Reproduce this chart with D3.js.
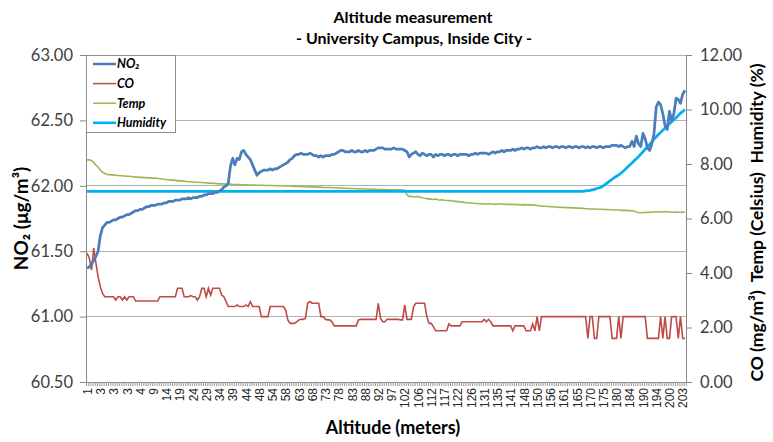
<!DOCTYPE html>
<html><head><meta charset="utf-8">
<script src="https://cdn.jsdelivr.net/npm/d3@7"></script>
<style>body{margin:0;background:#fff}svg{display:block}</style>
</head><body><svg id="c" width="773" height="442"></svg>
<script>
const title = "Altitude measurement";
const subtitle = "- University Campus, Inside City -";
const seriesNames = ["NO₂", "CO", "Temp", "Humidity"];
const xTickLabels = [1,3,3,3,4,9,14,19,24,29,34,39,44,48,54,58,63,68,73,78,83,88,92,97,102,106,112,117,122,126,131,135,141,148,150,156,161,165,170,175,180,184,190,194,200,203];
const leftTicks = [60.5,61,61.5,62,62.5,63];
const rightTicks = [0,2,4,6,8,10,12];

const no2 = [
61.37,61.38,61.40,61.43,61.46,61.50,61.62,61.68,61.70,61.72,
61.72,61.73,61.74,61.74,61.75,61.76,61.76,61.77,61.78,61.78,
61.79,61.80,61.81,61.81,61.82,61.82,61.83,61.84,61.84,61.85,
61.85,61.85,61.86,61.86,61.86,61.87,61.87,61.88,61.88,61.88,
61.89,61.89,61.89,61.90,61.90,61.90,61.91,61.90,61.91,61.91,
61.91,61.92,61.92,61.93,61.93,61.94,61.94,61.94,61.95,61.95,
61.96,61.97,61.99,62.00,62.02,62.15,62.21,62.16,62.21,62.20,
62.26,62.27,62.24,62.22,62.20,62.16,62.12,62.08,62.10,62.11,
62.12,62.12,62.12,62.13,62.12,62.13,62.13,62.14,62.15,62.16,
62.17,62.18,62.20,62.21,62.23,62.24,62.24,62.25,62.24,62.24,
62.24,62.25,62.24,62.23,62.23,62.22,62.23,62.22,62.23,62.23,
62.23,62.24,62.24,62.25,62.26,62.27,62.27,62.26,62.26,62.26,
62.27,62.26,62.26,62.27,62.26,62.26,62.27,62.26,62.27,62.27,
62.27,62.28,62.29,62.29,62.29,62.28,62.28,62.28,62.28,62.29,
62.28,62.28,62.28,62.28,62.27,62.26,62.22,62.24,62.25,62.26,
62.24,62.23,62.25,62.24,62.23,62.24,62.24,62.22,62.24,62.23,
62.24,62.24,62.23,62.24,62.24,62.23,62.24,62.24,62.23,62.24,
62.24,62.24,62.24,62.23,62.24,62.24,62.25,62.24,62.25,62.25,
62.25,62.25,62.24,62.25,62.26,62.25,62.26,62.26,62.27,62.26,
62.27,62.27,62.27,62.28,62.27,62.28,62.28,62.29,62.28,62.29,
62.29,62.28,62.29,62.29,62.30,62.29,62.29,62.30,62.29,62.30,
62.30,62.29,62.30,62.30,62.29,62.30,62.30,62.29,62.30,62.30,
62.29,62.30,62.30,62.29,62.30,62.30,62.29,62.30,62.29,62.30,
62.30,62.29,62.30,62.30,62.29,62.30,62.30,62.30,62.31,62.31,
62.31,62.30,62.31,62.30,62.29,62.30,62.30,62.34,62.30,62.38,
62.32,62.30,62.40,62.36,62.29,62.27,62.32,62.40,62.60,62.64,
62.62,62.55,62.46,62.43,62.57,62.50,62.55,62.67,62.66,62.63,
62.70,62.73];

const co = [
4.72,4.55,4.11,4.91,4.36,3.86,3.50,3.25,3.13,3.13,
3.13,3.13,3.13,3.01,3.13,3.13,3.01,3.13,3.01,3.13,
3.13,3.13,2.97,2.97,2.97,2.97,2.97,2.97,2.97,2.97,
2.97,2.97,2.97,3.13,3.13,3.13,3.13,3.13,3.13,3.13,
3.13,3.44,3.44,3.44,3.13,3.13,3.13,3.17,3.13,3.13,
3.01,3.13,3.44,3.44,3.13,3.44,3.19,3.44,3.44,3.44,
3.44,3.19,3.13,2.95,2.77,2.77,2.77,2.77,2.83,2.77,
2.77,2.77,2.83,2.77,2.95,2.77,2.77,2.77,2.77,2.40,
2.40,2.40,2.40,2.77,2.77,2.77,2.77,2.77,2.77,2.77,
2.64,2.28,2.15,2.15,2.15,2.21,2.28,2.30,2.30,2.34,
2.89,2.95,2.89,2.89,2.89,2.89,2.40,2.40,2.30,2.28,
2.28,2.21,2.06,2.06,2.06,2.06,2.06,2.06,2.06,2.06,
2.06,2.06,2.06,2.28,2.30,2.30,2.30,2.30,2.30,2.30,
2.30,2.30,2.89,2.34,2.21,2.21,2.30,2.30,2.30,2.30,
2.30,2.30,2.28,2.28,2.83,2.30,2.30,2.30,2.77,2.89,
2.89,2.89,2.89,2.89,2.40,2.15,2.15,2.03,1.88,1.88,
1.88,1.88,1.88,1.88,2.13,2.06,2.06,2.06,2.06,2.06,
2.21,2.21,2.21,2.21,2.21,2.21,2.21,2.21,2.21,2.21,
2.30,2.21,2.30,2.21,2.06,2.06,2.06,2.06,2.06,2.06,
2.06,2.06,2.06,1.88,2.06,2.06,2.06,2.06,2.06,1.88,
1.88,1.88,2.13,1.88,2.40,1.88,2.40,2.40,2.40,2.40,
2.40,2.40,2.40,2.40,2.40,2.40,2.40,2.40,2.40,2.40,
2.40,2.40,2.40,2.40,2.40,2.40,2.40,1.60,2.40,2.40,
1.60,1.60,2.40,2.40,2.40,2.40,2.40,2.40,1.60,1.60,
1.60,2.40,1.60,2.40,2.40,2.40,2.40,2.40,2.40,2.40,
2.40,2.40,2.40,2.40,1.60,1.60,1.60,1.60,1.60,1.60,
2.40,1.60,2.40,1.60,1.60,2.40,2.40,2.40,1.60,2.40,
1.60,1.60];

const temp = [
8.15,8.15,8.13,8.05,7.96,7.88,7.78,7.70,7.65,7.62,
7.61,7.60,7.60,7.59,7.58,7.57,7.57,7.56,7.55,7.55,
7.54,7.53,7.52,7.52,7.51,7.51,7.50,7.50,7.49,7.49,
7.48,7.48,7.47,7.46,7.45,7.44,7.43,7.42,7.41,7.41,
7.40,7.39,7.38,7.38,7.37,7.36,7.35,7.35,7.34,7.34,
7.33,7.32,7.32,7.31,7.31,7.30,7.30,7.29,7.29,7.28,
7.27,7.27,7.27,7.26,7.26,7.26,7.25,7.25,7.25,7.25,
7.24,7.24,7.24,7.23,7.23,7.23,7.23,7.22,7.22,7.22,
7.22,7.21,7.21,7.21,7.21,7.20,7.20,7.20,7.20,7.19,
7.19,7.19,7.19,7.18,7.18,7.18,7.18,7.17,7.17,7.17,
7.17,7.16,7.16,7.16,7.15,7.15,7.15,7.14,7.14,7.14,
7.14,7.13,7.13,7.13,7.12,7.12,7.11,7.11,7.11,7.10,
7.10,7.10,7.09,7.09,7.09,7.08,7.08,7.08,7.07,7.07,
7.07,7.07,7.06,7.06,7.06,7.06,7.05,7.05,7.05,7.05,
7.05,7.05,7.05,7.04,7.04,6.87,6.80,6.82,6.79,6.80,
6.81,6.78,6.76,6.74,6.73,6.72,6.71,6.70,6.72,6.69,
6.68,6.69,6.67,6.66,6.66,6.65,6.64,6.63,6.62,6.61,
6.60,6.59,6.58,6.58,6.57,6.56,6.55,6.55,6.54,6.54,
6.53,6.53,6.54,6.53,6.53,6.52,6.53,6.53,6.53,6.52,
6.52,6.52,6.51,6.52,6.51,6.51,6.51,6.50,6.51,6.50,
6.50,6.50,6.50,6.49,6.48,6.47,6.46,6.45,6.45,6.44,
6.43,6.43,6.42,6.42,6.41,6.41,6.41,6.40,6.40,6.40,
6.39,6.39,6.38,6.38,6.37,6.37,6.36,6.36,6.35,6.35,
6.35,6.34,6.34,6.34,6.33,6.33,6.33,6.32,6.32,6.31,
6.31,6.31,6.30,6.30,6.30,6.29,6.29,6.29,6.27,6.24,
6.22,6.21,6.22,6.23,6.22,6.23,6.24,6.24,6.25,6.24,
6.25,6.24,6.25,6.25,6.24,6.24,6.23,6.24,6.23,6.23,
6.24,6.23];

const humidity = [
7,7,7,7,7,7,7,7,7,7, 7,7,7,7,7,7,7,7,7,7,
7,7,7,7,7,7,7,7,7,7, 7,7,7,7,7,7,7,7,7,7,
7,7,7,7,7,7,7,7,7,7, 7,7,7,7,7,7,7,7,7,7,
7,7,7,7,7,7,7,7,7,7, 7,7,7,7,7,7,7,7,7,7,
7,7,7,7,7,7,7,7,7,7, 7,7,7,7,7,7,7,7,7,7,
7,7,7,7,7,7,7,7,7,7, 7,7,7,7,7,7,7,7,7,7,
7,7,7,7,7,7,7,7,7,7, 7,7,7,7,7,7,7,7,7,7,
7,7,7,7,7,7,7,7,7,7, 7,7,7,7,7,7,7,7,7,7,
7,7,7,7,7,7,7,7,7,7, 7,7,7,7,7,7,7,7,7,7,
7,7,7,7,7,7,7,7,7,7, 7,7,7,7,7,7,7,7,7,7,
7,7,7,7,7,7,7,7,7,7, 7,7,7,7,7,7,7,7,7,7,
7,7,7,7,7,
7.00,7.01,7.02,7.03,7.05,
7.07,7.10,7.12,7.15,7.20,7.26,7.32,7.38,7.44,7.50,
7.55,7.60,7.66,7.73,7.81,7.89,7.96,8.04,8.12,8.19,
8.27,8.36,8.45,8.54,8.63,8.72,8.81,8.91,9.00,9.08,
9.16,9.24,9.32,9.40,9.48,9.55,9.63,9.70,9.78,9.86,
9.93,10.00];

const N = no2.length;
const labelEvery = 6;
const L = 86, R = 686, T = 55, B = 382;
const svg = d3.select("#c");
const font = "Lato, 'Open Sans', sans-serif";

const x = d3.scalePoint().domain(d3.range(N)).range([L, R]).padding(0.5);
const xb = d3.scaleLinear().domain([0, N]).range([L, R]);
const yL = d3.scaleLinear().domain([60.5, 63]).range([B, T]);
const yR = d3.scaleLinear().domain([0, 12]).range([B, T]);

// gridlines
svg.append("g").selectAll("line").data(leftTicks.slice(1)).join("line")
  .attr("x1", L).attr("x2", R).attr("y1", d => yL(d)).attr("y2", d => yL(d))
  .attr("stroke", "#b3b3b3").attr("stroke-width", 1).attr("shape-rendering","crispEdges");

// left axis
const gl = svg.append("g").attr("transform", `translate(${L},0)`)
  .call(d3.axisLeft(yL).tickValues(leftTicks).tickFormat(d3.format(".2f")).tickSize(6).tickPadding(7));
gl.select(".domain").attr("stroke", "#868686");
gl.selectAll(".tick line").attr("stroke", "#868686");
gl.selectAll("text").attr("font-family", font).attr("font-size", 16.5).attr("fill", "#404040");

// right axis
const gr = svg.append("g").attr("transform", `translate(${R},0)`)
  .call(d3.axisRight(yR).tickValues(rightTicks).tickFormat(d3.format(".2f")).tickSize(6).tickPadding(8));
gr.select(".domain").attr("stroke", "#868686");
gr.selectAll(".tick line").attr("stroke", "#868686");
gr.selectAll("text").attr("font-family", font).attr("font-size", 16.5).attr("fill", "#404040");

// bottom axis: ticks at category boundaries
const gb = svg.append("g").attr("transform", `translate(0,${B})`)
  .call(d3.axisBottom(xb).tickValues(d3.range(N + 1)).tickFormat("").tickSize(4));
gb.select(".domain").attr("stroke", "#868686");
gb.selectAll(".tick line").attr("stroke", "#9a9a9a");

// bottom labels
const labelIdx = xTickLabels.map((_, k) => k * labelEvery);
const gbl = svg.append("g").attr("transform", `translate(0,${B})`)
  .call(d3.axisBottom(x).tickValues(labelIdx).tickFormat(i => xTickLabels[i / labelEvery]).tickSize(0));
gbl.select(".domain").remove();
gbl.selectAll("text")
  .attr("font-family", "'Liberation Sans', Arial, sans-serif").attr("font-size", 12).attr("fill", "#262626")
  .attr("transform", "rotate(-90)").attr("text-anchor", "end")
  .attr("x", -6).attr("y", 0).attr("dy", "0.35em");

// lines
const lineL = d3.line().x((d, i) => x(i)).y(d => yL(d));
const lineR = d3.line().x((d, i) => x(i)).y(d => yR(d));
const colors = ["#4a7ebb", "#be4b48", "#98b954", "#00b0f0"];
svg.append("path").datum(temp).attr("d", lineR).attr("fill", "none").attr("stroke", colors[2]).attr("stroke-width", 1.6);
svg.append("path").datum(co).attr("d", lineR).attr("fill", "none").attr("stroke", colors[1]).attr("stroke-width", 1.6);
svg.append("path").datum(humidity).attr("d", lineR).attr("fill", "none").attr("stroke", colors[3]).attr("stroke-width", 2.75);
svg.append("path").datum(no2).attr("d", lineL).attr("fill", "none").attr("stroke", colors[0]).attr("stroke-width", 2.75).attr("stroke-linejoin","round");

// legend
const lg = svg.append("g");
lg.append("rect").attr("x", 86.5).attr("y", 55.5).attr("width", 89).attr("height", 77)
  .attr("fill", "#fff").attr("stroke", "#8c8c8c");
seriesNames.forEach((n, k) => {
  const yy = 64 + k * 19.6;
  lg.append("line").attr("x1", 93).attr("x2", 116).attr("y1", yy).attr("y2", yy)
    .attr("stroke", colors[k]).attr("stroke-width", k === 0 || k === 3 ? 2.5 : 1.5);
  lg.append("text").attr("x", 117).attr("y", yy).attr("dy", "0.35em").text(n)
    .attr("font-family", font).attr("font-size", 12.5).attr("font-weight", "bold").attr("font-style", "italic").attr("fill", "#000");
});

// titles
svg.append("text").attr("x", 413).attr("y", 17).attr("dy", "0.35em").attr("text-anchor", "middle")
  .attr("font-family", font).attr("font-weight", "bold").attr("font-size", 16).text(title);
svg.append("text").attr("x", 414).attr("y", 38).attr("dy", "0.35em").attr("text-anchor", "middle")
  .attr("font-family", font).attr("font-weight", "bold").attr("font-size", 16).text(subtitle);
svg.append("text").attr("x", 393).attr("y", 428).attr("dy", "0.35em").attr("text-anchor", "middle")
  .attr("font-family", font).attr("font-weight", "bold").attr("font-size", 18).text("Altitude (meters)");
svg.append("text").attr("transform", `translate(21,${(T + B) / 2}) rotate(-90)`).attr("dy", "0.35em").attr("text-anchor", "middle")
  .attr("font-family", font).attr("font-weight", "bold").attr("font-size", 19).text("NO₂ (μg/m³)");
svg.append("text").attr("transform", `translate(757,${(T + B) / 2 + 4}) rotate(-90)`).attr("dy", "0.35em").attr("text-anchor", "middle")
  .attr("font-family", font).attr("font-weight", "bold").attr("font-size", 17.5).attr("xml:space","preserve")
  .text("CO (mg/m³)  Temp (Celsius)  Humidity (%)");
</script></body></html>
